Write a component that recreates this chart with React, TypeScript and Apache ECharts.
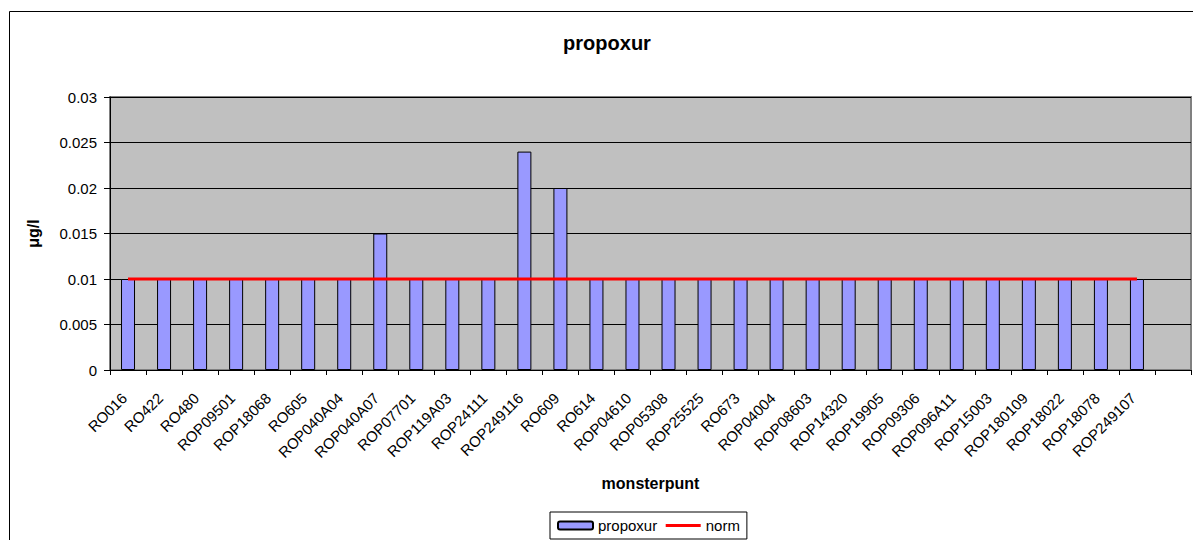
import React, { useEffect, useRef } from "react";
import * as echarts from "echarts";

const categories = [
  "RO016", "RO422", "RO480", "ROP09501", "ROP18068", "RO605", "ROP040A04", "ROP040A07",
  "ROP07701", "ROP119A03", "ROP24111", "ROP249116", "RO609", "RO614", "ROP04610", "ROP05308",
  "ROP25525", "RO673", "ROP04004", "ROP08603", "ROP14320", "ROP19905", "ROP09306", "ROP096A11",
  "ROP15003", "ROP180109", "ROP18022", "ROP18078", "ROP249107", "",
];

const propoxur = [
  0.01, 0.01, 0.01, 0.01, 0.01, 0.01, 0.01, 0.015,
  0.01, 0.01, 0.01, 0.024, 0.02, 0.01, 0.01, 0.01,
  0.01, 0.01, 0.01, 0.01, 0.01, 0.01, 0.01, 0.01,
  0.01, 0.01, 0.01, 0.01, 0.01, null,
];

const norm = [
  0.01, 0.01, 0.01, 0.01, 0.01, 0.01, 0.01, 0.01,
  0.01, 0.01, 0.01, 0.01, 0.01, 0.01, 0.01, 0.01,
  0.01, 0.01, 0.01, 0.01, 0.01, 0.01, 0.01, 0.01,
  0.01, 0.01, 0.01, 0.01, 0.01, null,
];

const yTicks = { min: 0, max: 0.03, interval: 0.005 };

const FONT = "'Liberation Sans', Arial, sans-serif";

export default function App() {
  const ref = useRef<HTMLDivElement>(null);

  useEffect(() => {
    if (!ref.current) return;
    const chart = echarts.init(ref.current, undefined, { renderer: "svg" });
    chart.setOption({
      animation: false,
      backgroundColor: "#ffffff",
      textStyle: { fontFamily: FONT, color: "#000" },
      title: {
        text: "propoxur",
        left: 607,
        top: 33,
        padding: 0,
        textAlign: "center",
        textStyle: { fontSize: 20, fontWeight: "bold", color: "#000", fontFamily: FONT },
      },
      graphic: [
        {
          type: "rect",
          shape: { x: 9.5, y: 11.5, width: 1400, height: 700 },
          style: { fill: "none", stroke: "#000", lineWidth: 1 },
          silent: true,
          z: -10,
        },
      ],
      legend: {
        left: 550,
        top: 512,
        padding: [6, 7, 6, 7],
        itemGap: 7,
        itemWidth: 35,
        itemHeight: 8,
        borderColor: "#000",
        borderWidth: 1,
        backgroundColor: "#fff",
        textStyle: { fontSize: 15, color: "#000", fontFamily: FONT },
        data: [
          { name: "propoxur" },
          { name: "norm", itemStyle: { opacity: 0 }, lineStyle: { width: 3, color: "#FF0000" } },
        ],
      },
      grid: {
        left: 110,
        top: 97,
        right: 2,
        bottom: 170,
        show: true,
        backgroundColor: "#C0C0C0",
        borderColor: "#808080",
        borderWidth: 2,
      },
      xAxis: {
        type: "category",
        data: categories,
        boundaryGap: true,
        name: "monsterpunt",
        nameLocation: "middle",
        nameGap: 105,
        nameTextStyle: { fontSize: 16, fontWeight: "bold", color: "#000", fontFamily: FONT },
        axisLine: { lineStyle: { color: "#000", width: 1 } },
        axisTick: { show: true, length: 5, lineStyle: { color: "#000" } },
        axisLabel: {
          interval: 0,
          rotate: 45,
          fontSize: 15,
          color: "#000",
          margin: 11,
          verticalAlign: "top",
          padding: [0, 13, 0, 0],
          fontFamily: FONT,
        },
        splitLine: { show: false },
      },
      yAxis: {
        type: "value",
        min: yTicks.min,
        max: yTicks.max,
        interval: yTicks.interval,
        name: "μg/l",
        nameLocation: "middle",
        nameRotate: 90,
        nameGap: 69,
        nameTextStyle: { fontSize: 16, fontWeight: "bold", color: "#000", fontFamily: FONT },
        axisLine: { show: true, lineStyle: { color: "#000", width: 1 } },
        axisTick: { show: true, length: 6, lineStyle: { color: "#000" } },
        axisLabel: { fontSize: 15, color: "#000", margin: 13, fontFamily: FONT },
        splitLine: { show: true, lineStyle: { color: "#000", width: 1 } },
      },
      series: [
        {
          name: "propoxur",
          type: "bar",
          data: propoxur,
          barWidth: 14,
          itemStyle: { color: "#9999FF", borderColor: "#000", borderWidth: 1 },
          z: 2,
        },
        {
          name: "norm",
          type: "line",
          data: norm,
          symbol: "none",
          showSymbol: false,
          lineStyle: { color: "#FF0000", width: 3 },
          itemStyle: { color: "#FF0000" },
          z: 3,
        },
      ],
    });
    return () => chart.dispose();
  }, []);

  return (
    <div
      ref={ref}
      style={{ position: "fixed", left: 0, top: 0, width: 1193, height: 540 }}
    />
  );
}
